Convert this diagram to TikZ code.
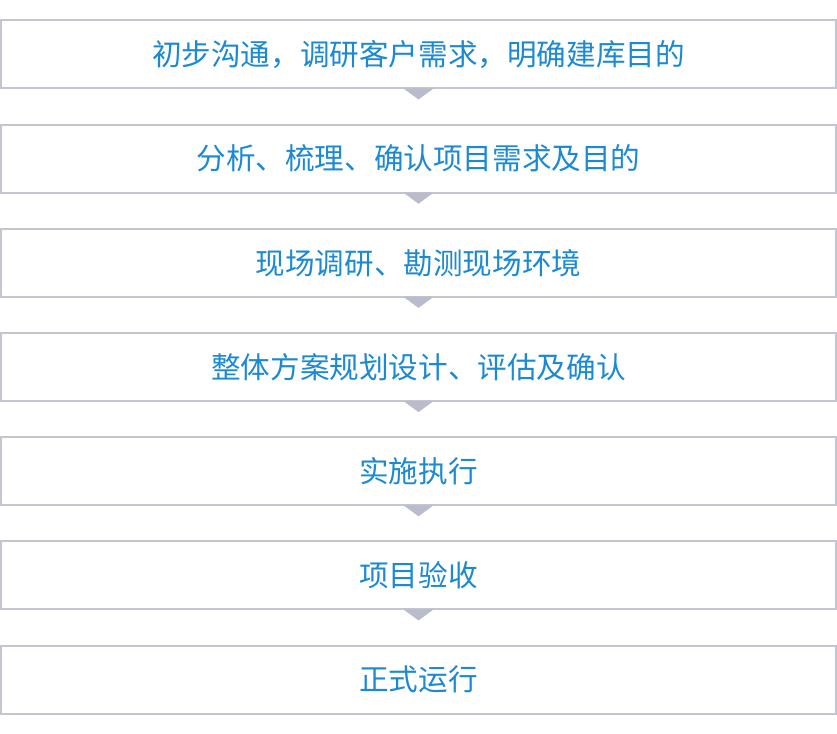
\documentclass[tikz,border=0pt]{standalone}
\usepackage{fontspec}
\newfontfamily\cjk{Noto Sans CJK SC}
\definecolor{boxline}{HTML}{C4C5D2}
\definecolor{tri}{HTML}{B9BCCB}
\definecolor{txt}{HTML}{1B8AD3}
\tikzset{
  stepbox/.style={draw=boxline, line width=2pt, minimum width=835pt, minimum height=68pt, inner sep=0pt, text=txt, font=\cjk\fontsize{29.6}{32}\selectfont, fill=white},
  tipmark/.style={fill=tri, draw=none}
}
\begin{document}
\begin{tikzpicture}[x=1pt,y=1pt]
\useasboundingbox (0,0) rectangle (837,733);
\foreach \i/\t in {0/初步沟通，调研客户需求，明确建库目的,1/分析、梳理、确认项目需求及目的,2/现场调研、勘测现场环境,3/整体方案规划设计、评估及确认,4/实施执行,5/项目验收,6/正式运行}{
  \pgfmathsetmacro{\yc}{733-54.5-104.2*\i}
  \node[stepbox] (b\i) at (418.5,\yc) {\t};
}
\foreach \i in {0,...,5}{
  \coordinate (l\i) at ([xshift=-15pt,yshift=1pt]b\i.south);
  \coordinate (r\i) at ([xshift=15pt,yshift=1pt]b\i.south);
  \coordinate (a\i) at ([yshift=-10pt]b\i.south);
  \fill[tipmark] (l\i) -- (r\i) -- (a\i) -- cycle;
}
\end{tikzpicture}
\end{document}
